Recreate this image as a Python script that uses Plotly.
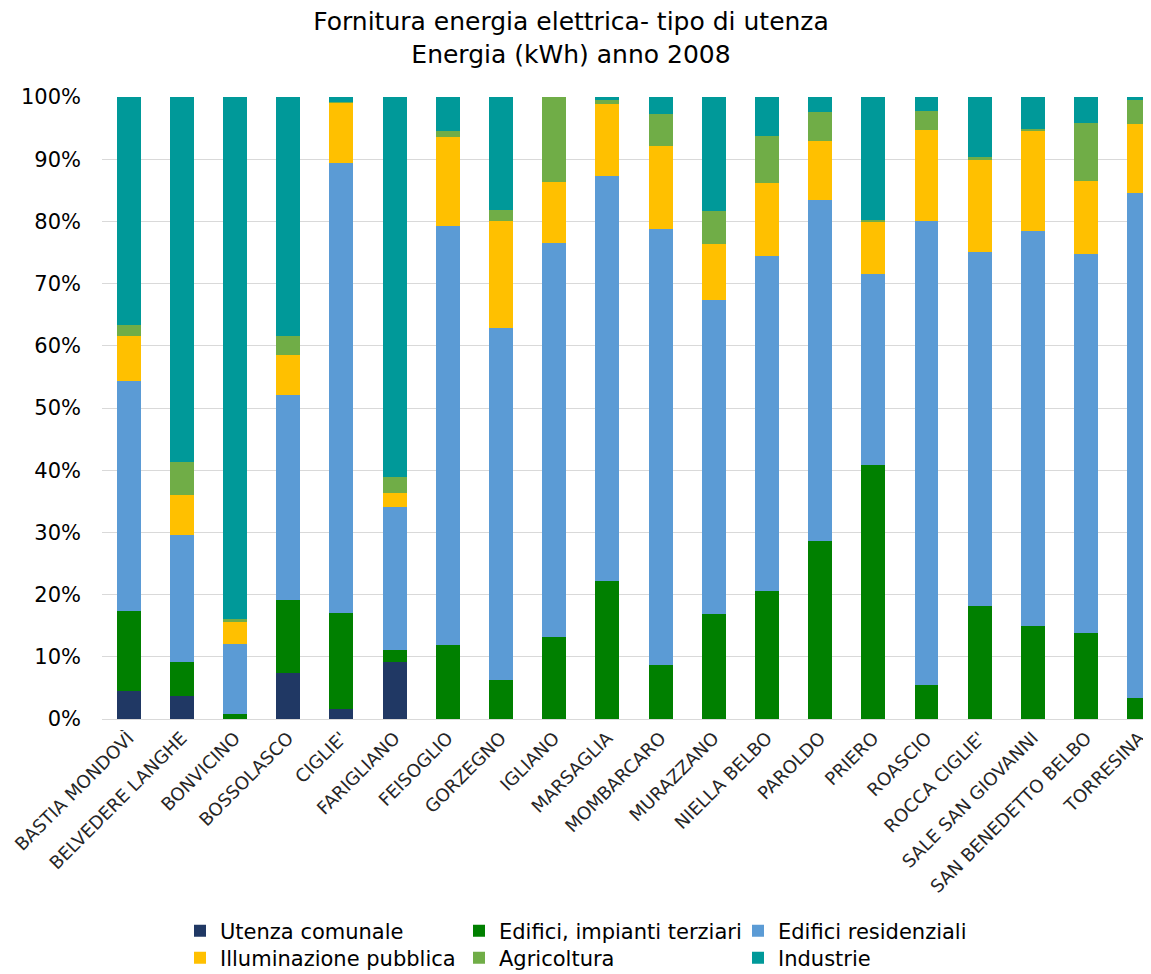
import plotly.graph_objects as go

comuni = ["BASTIA MONDOVÌ", "BELVEDERE LANGHE", "BONVICINO", "BOSSOLASCO", "CIGLIE'",
          "FARIGLIANO", "FEISOGLIO", "GORZEGNO", "IGLIANO", "MARSAGLIA", "MOMBARCARO",
          "MURAZZANO", "NIELLA BELBO", "PAROLDO", "PRIERO", "ROASCIO", "ROCCA CIGLIE'",
          "SALE SAN GIOVANNI", "SAN BENEDETTO BELBO", "TORRESINA"]

utenza_comunale = [4.5, 3.7, 0.0, 7.4, 1.6, 9.1, 0, 0, 0, 0, 0, 0, 0, 0, 0, 0, 0, 0, 0, 0]
edifici_terziari = [12.8, 5.5, 0.8, 11.8, 15.5, 2.0, 11.9, 6.2, 13.2, 22.2, 8.7, 16.9, 20.5,
                    28.6, 40.9, 5.5, 18.1, 15.0, 13.8, 3.3]
edifici_residenziali = [37.0, 20.4, 11.3, 32.9, 72.3, 23.0, 67.4, 56.6, 63.4, 65.1, 70.0, 50.4,
                        54.0, 54.8, 30.6, 74.6, 57.0, 63.5, 61.0, 81.3]
illuminazione = [7.2, 6.4, 3.6, 6.4, 9.7, 2.3, 14.2, 17.3, 9.7, 11.6, 13.5, 9.1, 11.6, 9.6,
                 8.4, 14.6, 14.7, 16.0, 11.7, 11.1]
agricoltura = [1.8, 5.3, 0.3, 3.0, 0.1, 2.5, 1.0, 1.8, 13.7, 0.6, 5.0, 5.3, 7.6, 4.6, 0.4,
               3.1, 0.6, 0.4, 9.4, 3.8]
industrie = [36.7, 58.7, 84.0, 38.5, 0.8, 61.1, 5.5, 18.1, 0.0, 0.5, 2.8, 18.3, 6.3, 2.4,
             19.7, 2.2, 9.6, 5.1, 4.1, 0.5]

series = [
    ("Utenza comunale", utenza_comunale, "#203864", "legend"),
    ("Edifici, impianti terziari", edifici_terziari, "#008000", "legend"),
    ("Edifici residenziali", edifici_residenziali, "#5B9BD5", "legend"),
    ("Illuminazione pubblica", illuminazione, "#FFC000", "legend2"),
    ("Agricoltura", agricoltura, "#70AD47", "legend2"),
    ("Industrie", industrie, "#009999", "legend2"),
]

FONT = "DejaVu Sans"
W, H = 1143, 966  # page body has an 8px margin

fig = go.Figure()
for name, vals, color, leg in series:
    fig.add_trace(go.Bar(
        x=comuni, y=vals, name=name, width=0.45,
        marker=dict(color=color, line=dict(width=0)),
        legend=leg,
    ))

legend_common = dict(
    orientation="h", xref="container", xanchor="left", yref="container", yanchor="middle",
    entrywidth=234, entrywidthmode="pixels",
    font=dict(family=FONT, size=21, color="#000000"),
    bgcolor="rgba(0,0,0,0)", traceorder="normal",
)

fig.update_layout(
    width=W, height=H,
    barmode="stack", barnorm="percent",
    plot_bgcolor="white", paper_bgcolor="white",
    margin=dict(l=94, r=0, t=89, b=255),
    title=dict(
        text="Fornitura energia elettrica- tipo di utenza<br>Energia (kWh) anno 2008",
        x=563 / W, xref="container", xanchor="center",
        y=1 - 22 / H, yref="container", yanchor="top",
        font=dict(family=FONT, size=25, color="#000000"),
    ),
    xaxis=dict(
        range=[-0.5, 19.22], tickangle=-45, showgrid=False, showline=False,
        ticks="", ticklabelstandoff=4,
        tickfont=dict(family=FONT, size=18, color="#262626"),
    ),
    yaxis=dict(
        range=[0, 100], dtick=10, ticksuffix="%",
        showgrid=True, gridcolor="#D9D9D9", gridwidth=1,
        zeroline=True, zerolinecolor="#D9D9D9", zerolinewidth=1,
        ticks="", ticklabelstandoff=20,
        tickfont=dict(family=FONT, size=21, color="#000000"),
    ),
    legend=dict(legend_common, x=172 / W, y=1 - 923 / H),
    legend2=dict(legend_common, x=172 / W, y=1 - 950 / H),
)

fig.write_html("out.html")
